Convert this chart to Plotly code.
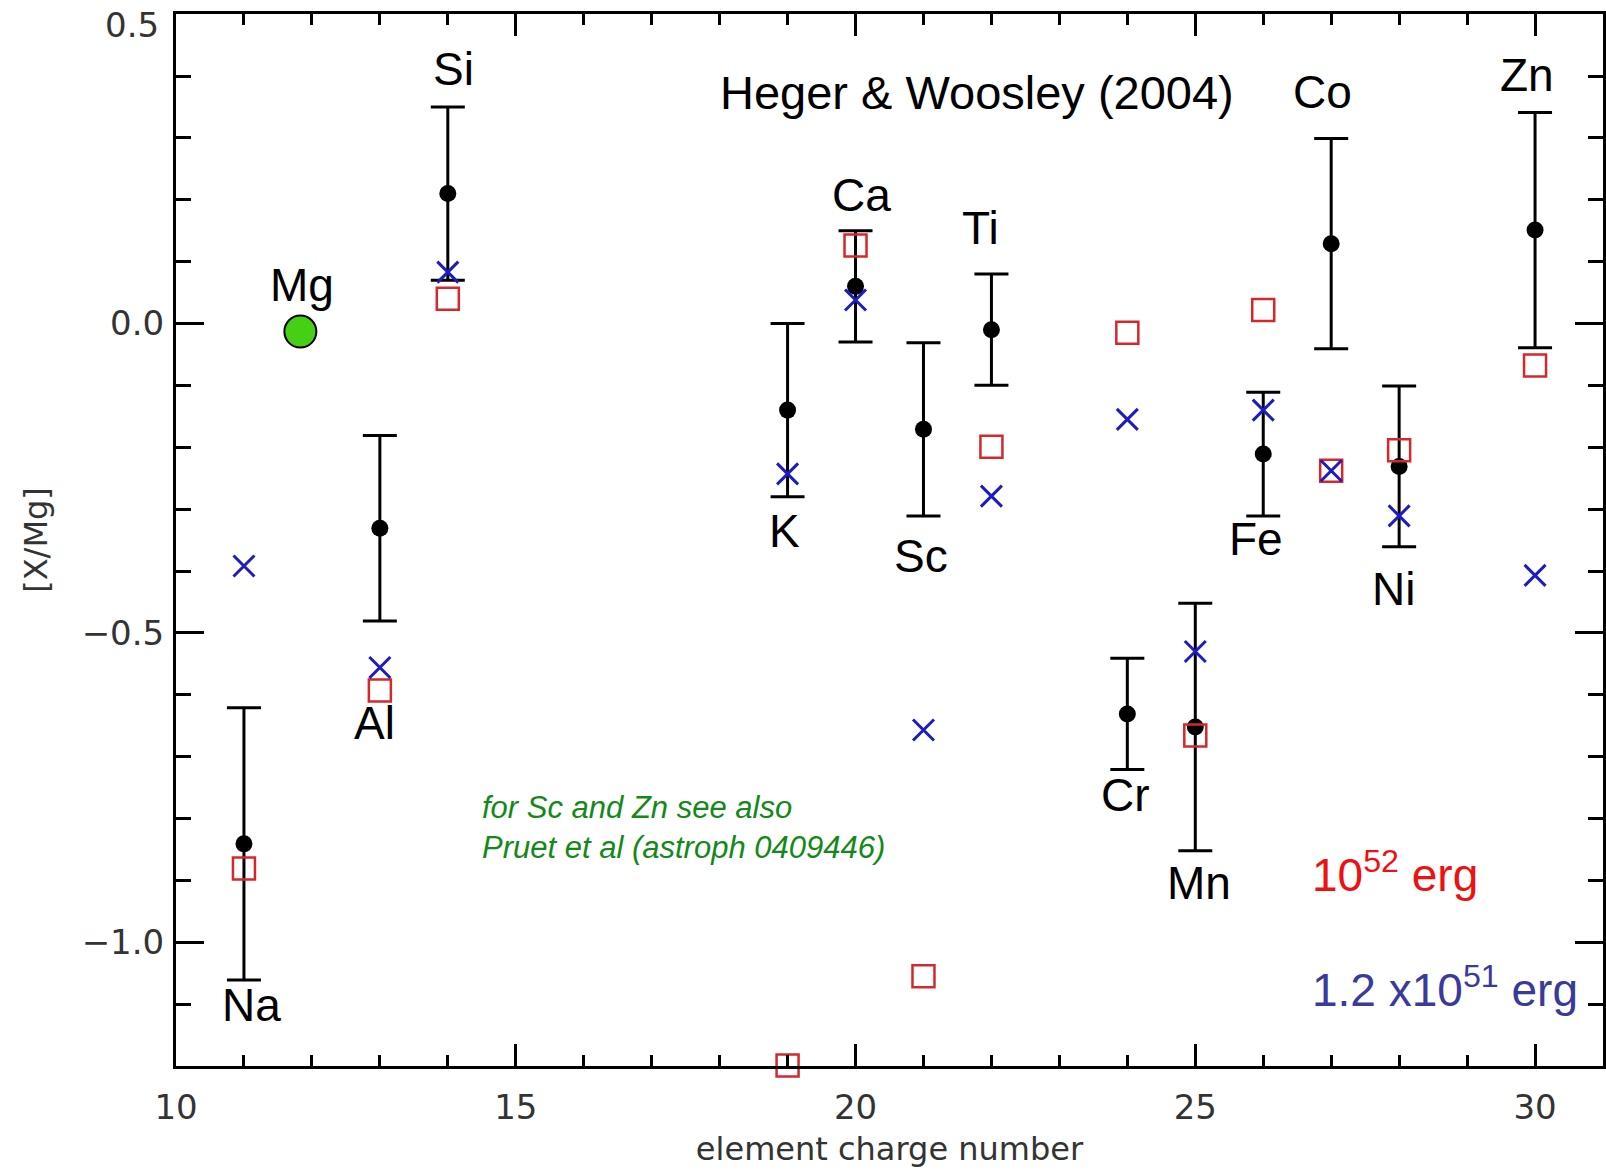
import plotly.graph_objects as go

# ---------------- data ----------------
elements = ["Na", "Al", "Si", "K", "Ca", "Sc", "Ti", "Cr", "Mn", "Fe", "Co", "Ni", "Zn"]
charge = [11, 13, 14, 19, 20, 21, 22, 24, 25, 26, 27, 28, 30]
observed = [-0.841, -0.331, 0.210, -0.140, 0.060, -0.171, -0.010, -0.631, -0.652, -0.211, 0.129, -0.231, 0.151]
obs_err = [0.22, 0.15, 0.14, 0.14, 0.09, 0.14, 0.09, 0.09, 0.20, 0.10, 0.17, 0.13, 0.19]
model_1e52 = [-0.881, -0.593, 0.040, -1.199, 0.126, -1.055, -0.199, -0.015, -0.666, 0.022, -0.238, -0.205, -0.068]
model_1p2e51 = [-0.392, -0.556, 0.083, -0.243, 0.038, -0.657, -0.279, -0.155, -0.530, -0.140, -0.238, -0.311, -0.407]

mg_label = "Mg"
mg_x = [11.83]
mg_y = [-0.013]

# label positions (data units) for element names
label_x = [11.11, 12.92, 14.08, 18.95, 20.09, 20.96, 21.84, 23.98, 25.06, 25.90, 26.87, 27.92, 29.88]
label_y = [-1.101, -0.646, 0.412, -0.336, 0.207, -0.376, 0.154, -0.762, -0.904, -0.349, 0.374, -0.429, 0.401]
mg_label_pos = (11.85, 0.063)

x_ticks = [10, 15, 20, 25, 30]
y_ticks = [0.5, 0.0, -0.5, -1.0]
y_ticklabels = ["0.5", "0.0", "\u22120.5", "\u22121.0"]

fig = go.Figure()

# observations with error bars
fig.add_trace(go.Scatter(
    x=charge, y=observed, mode="markers",
    marker=dict(color="black", size=17, symbol="circle"),
    error_y=dict(type="data", array=obs_err, visible=True, color="black", thickness=3, width=17),
    cliponaxis=False, showlegend=False,
))
# 10^52 erg model
fig.add_trace(go.Scatter(
    x=charge, y=model_1e52, mode="markers",
    marker=dict(symbol="square-open", size=22, color="#d4282c", line=dict(width=2.5, color="#d4282c")),
    cliponaxis=False, showlegend=False,
))
# 1.2x10^51 erg model
fig.add_trace(go.Scatter(
    x=charge, y=model_1p2e51, mode="markers",
    marker=dict(symbol="x-thin-open", size=21, color="#1c1cc0", line=dict(width=3, color="#1c1cc0")),
    cliponaxis=False, showlegend=False,
))
# Mg reference
fig.add_trace(go.Scatter(
    x=mg_x, y=mg_y, mode="markers",
    marker=dict(symbol="circle", size=32, color="#46d015", line=dict(width=2, color="black")),
    cliponaxis=False, showlegend=False,
))

label_font = dict(family="Liberation Sans, Arial, sans-serif", size=46, color="black")
axis_font = dict(family="DejaVu Sans, sans-serif", size=34, color="#333333")

annotations = []
for name, lx, ly in zip(elements, label_x, label_y):
    annotations.append(dict(x=lx, y=ly, xref="x", yref="y", text=name, showarrow=False,
                            font=label_font, xanchor="center", yanchor="middle"))
annotations.append(dict(x=mg_label_pos[0], y=mg_label_pos[1], xref="x", yref="y", text=mg_label,
                        showarrow=False, font=label_font, xanchor="center", yanchor="middle"))
annotations.append(dict(x=21.79, y=0.374, xref="x", yref="y", text="Heger &amp; Woosley (2004)",
                        showarrow=False, font=dict(family="Liberation Sans, Arial, sans-serif", size=47, color="black"),
                        xanchor="center", yanchor="middle"))
annotations.append(dict(x=14.48, y=-0.815, xref="x", yref="y",
                        text="<i>for Sc and Zn see also<br>Pruet et al (astroph 0409446)</i>",
                        showarrow=False, align="left",
                        font=dict(family="Liberation Sans, Arial, sans-serif", size=31, color="#13891a"),
                        xanchor="left", yanchor="middle"))
annotations.append(dict(x=26.69, y=-0.886, xref="x", yref="y", text="10<sup>52</sup> erg",
                        showarrow=False, font=dict(family="Liberation Sans, Arial, sans-serif", size=46, color="#ee1111"),
                        xanchor="left", yanchor="middle"))
annotations.append(dict(x=26.69, y=-1.072, xref="x", yref="y", text="1.2 x10<sup>51</sup> erg",
                        showarrow=False, font=dict(family="Liberation Sans, Arial, sans-serif", size=46, color="#3a3a9a"),
                        xanchor="left", yanchor="middle"))
# top tick label (drawn as annotation so it is not hidden at the page edge)
annotations.append(dict(x=0, y=y_ticks[0], xref="paper", yref="y", text=y_ticklabels[0],
                        showarrow=False, font=axis_font, xanchor="right", yanchor="middle",
                        xshift=-15, yshift=-11))

fig.update_layout(
    width=1606, height=1176,
    margin=dict(l=176, r=3, t=14, b=110, autoexpand=False),
    paper_bgcolor="white", plot_bgcolor="white",
    annotations=annotations,
    xaxis=dict(
        range=[10, 31], tickvals=x_ticks, ticktext=[str(v) for v in x_ticks],
        ticks="inside", ticklen=22, tickwidth=3, tickcolor="black",
        minor=dict(dtick=1, ticks="inside", ticklen=11, tickwidth=3, tickcolor="black"),
        showline=True, linewidth=3, linecolor="black", mirror="ticks",
        showgrid=False, zeroline=False, tickfont=axis_font, ticklabelstandoff=9,
        title=dict(text="element charge number", font=dict(family="DejaVu Sans, sans-serif", size=32, color="#333333"), standoff=12),
    ),
    yaxis=dict(
        range=[-1.2, 0.5002], tickvals=y_ticks, ticktext=[""] + y_ticklabels[1:],
        ticks="inside", ticklen=28, tickwidth=3, tickcolor="black",
        minor=dict(dtick=0.1, tick0=0, ticks="inside", ticklen=15, tickwidth=3, tickcolor="black"),
        showline=True, linewidth=3, linecolor="black", mirror="ticks",
        showgrid=False, zeroline=False, tickfont=axis_font, ticklabelstandoff=2,
        title=dict(text="[X/Mg]", font=dict(family="DejaVu Sans, sans-serif", size=32, color="#333333"), standoff=25),
    ),
)

fig.write_html("out.html")
